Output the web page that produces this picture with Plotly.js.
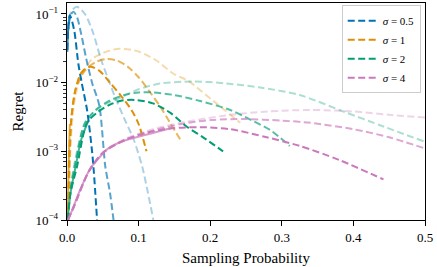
<!DOCTYPE html>
<html>
<head>
<meta charset="utf-8">
<script src="https://cdn.plot.ly/plotly-3.0.1.min.js"></script>
<style>html,body{margin:0;padding:0;background:#fff;}#chart{width:437px;height:267px;}</style>
</head>
<body>
<div id="chart"></div>
<script>
// ---- data ----
const sigmaLabels = ["0.5", "1", "2", "4"];
const colors = ["#0173B2", "#DE8F05", "#029E73", "#CC78BC"];

// sigma = 0.5
const s05_solid_x = [0.0005, 0.002, 0.004];
const s05_solid_y = [0.028, 0.07, 0.095];
const s05_a_x = [0.0005, 0.004, 0.01, 0.0158, 0.0205, 0.028, 0.035, 0.0375, 0.042];
const s05_a_y = [0.03, 0.096, 0.058, 0.019, 0.01, 0.004, 0.001, 0.0005, 0.0001];
const s05_b_x = [0.001, 0.005, 0.009, 0.014, 0.02, 0.027, 0.035, 0.045, 0.0535, 0.06, 0.065];
const s05_b_y = [0.05, 0.095, 0.108, 0.09, 0.05, 0.022, 0.01, 0.0047, 0.0006, 0.00025, 0.0001];
const s05_c_x = [0.002, 0.006, 0.014, 0.025, 0.036, 0.048, 0.058, 0.067, 0.08, 0.093, 0.105, 0.113, 0.1206];
const s05_c_y = [0.06, 0.11, 0.127, 0.1, 0.055, 0.021, 0.011, 0.0062, 0.003, 0.0015, 0.0006, 0.00025, 0.0001];

// sigma = 1
const s1_solid_x = [0.001, 0.002, 0.003, 0.004];
const s1_solid_y = [0.0001, 0.0004, 0.0012, 0.0025];
const s1_a_x = [0.0015, 0.003, 0.006, 0.012, 0.02, 0.032, 0.045, 0.06, 0.075, 0.09, 0.1, 0.111];
const s1_a_y = [0.0001, 0.0008, 0.003, 0.008, 0.014, 0.017, 0.015, 0.01, 0.0065, 0.004, 0.0025, 0.001];
const s1_b_x = [0.002, 0.004, 0.0066, 0.012, 0.025, 0.04, 0.055, 0.07, 0.085, 0.1, 0.115, 0.13, 0.144, 0.158];
const s1_b_y = [0.0001, 0.001, 0.0035, 0.008, 0.015, 0.02, 0.022, 0.021, 0.017, 0.012, 0.0075, 0.0045, 0.0026, 0.0015];
const s1_c_x = [0.0025, 0.005, 0.01, 0.02, 0.035, 0.05, 0.07, 0.09, 0.102, 0.125, 0.148, 0.17, 0.195, 0.22, 0.242];
const s1_c_y = [0.0001, 0.0012, 0.005, 0.013, 0.022, 0.027, 0.031, 0.03, 0.028, 0.021, 0.0136, 0.0105, 0.0065, 0.004, 0.0026];

// sigma = 2
const s2_solid_x = [0.001, 0.005, 0.012, 0.02, 0.03];
const s2_solid_y = [0.0001, 0.00025, 0.0006, 0.0015, 0.0028];
const s2_a_x = [0.001, 0.005, 0.014, 0.028, 0.044, 0.06, 0.077, 0.095, 0.12, 0.145, 0.167, 0.19, 0.218];
const s2_a_y = [0.0001, 0.00025, 0.0006, 0.0026, 0.0038, 0.0048, 0.0055, 0.0056, 0.005, 0.0036, 0.0023, 0.0016, 0.001];
const s2_b_x = [0.001, 0.005, 0.012, 0.025, 0.04, 0.06, 0.08, 0.1, 0.12, 0.15, 0.186, 0.228, 0.256, 0.285, 0.311];
const s2_b_y = [0.0001, 0.00028, 0.0007, 0.0026, 0.004, 0.0055, 0.0066, 0.0072, 0.0072, 0.0066, 0.0054, 0.004, 0.0029, 0.002, 0.0012];
const s2_c_x = [0.001, 0.005, 0.012, 0.025, 0.045, 0.074, 0.1, 0.13, 0.176, 0.22, 0.27, 0.325, 0.386, 0.442, 0.498];
const s2_c_y = [0.0001, 0.0003, 0.0008, 0.0025, 0.0043, 0.006, 0.008, 0.0097, 0.0104, 0.0098, 0.0085, 0.0066, 0.0038, 0.0023, 0.0014];

// sigma = 4
const s4_solid_x = [0.001, 0.004, 0.018, 0.032, 0.04, 0.055, 0.07, 0.086, 0.116, 0.147];
const s4_solid_y = [0.0001, 0.000115, 0.00027, 0.00055, 0.0007, 0.00105, 0.0013, 0.0015, 0.0018, 0.0022];
const s4_a_x = [0.001, 0.01, 0.03, 0.05, 0.08, 0.11, 0.144, 0.186, 0.228, 0.279, 0.325, 0.38, 0.442];
const s4_a_y = [0.0001, 0.00016, 0.0005, 0.00095, 0.00145, 0.00185, 0.00215, 0.00225, 0.0021, 0.0016, 0.0012, 0.00075, 0.00039];
const s4_b_x = [0.001, 0.01, 0.03, 0.05, 0.08, 0.12, 0.16, 0.2, 0.25, 0.3, 0.34, 0.4, 0.45, 0.5];
const s4_b_y = [0.0001, 0.00016, 0.0005, 0.00095, 0.00145, 0.002, 0.0025, 0.00285, 0.00295, 0.0028, 0.0026, 0.0021, 0.0016, 0.0011];
const s4_c_x = [0.001, 0.01, 0.03, 0.05, 0.08, 0.12, 0.167, 0.228, 0.28, 0.34, 0.4, 0.45, 0.5];
const s4_c_y = [0.0001, 0.00016, 0.0005, 0.00095, 0.0015, 0.0021, 0.0027, 0.0034, 0.0038, 0.004, 0.0038, 0.0034, 0.0031];

const xTickVals = [0, 0.1, 0.2, 0.3, 0.4, 0.5];
const xTickText = ["0.0", "0.1", "0.2", "0.3", "0.4", "0.5"];
const yTickVals = [1e-4, 1e-3, 1e-2, 1e-1];
const yTickText = ["10<sup>−4</sup>", "10<sup>−3</sup>", "10<sup>−2</sup>", "10<sup>−1</sup>"];
const yDecades = [1e-4, 1e-3, 1e-2, 1e-1];
const minorDigits = [2, 3, 4, 5, 6, 7, 8, 9];

// ---- build traces ----
function rgba(hex, a) {
  const r = parseInt(hex.slice(1, 3), 16), g = parseInt(hex.slice(3, 5), 16), b = parseInt(hex.slice(5, 7), 16);
  return `rgba(${r},${g},${b},${a})`;
}
const groups = [
  {solid: [s05_solid_x, s05_solid_y], a: [s05_a_x, s05_a_y], b: [s05_b_x, s05_b_y], c: [s05_c_x, s05_c_y]},
  {solid: [s1_solid_x, s1_solid_y], a: [s1_a_x, s1_a_y], b: [s1_b_x, s1_b_y], c: [s1_c_x, s1_c_y]},
  {solid: [s2_solid_x, s2_solid_y], a: [s2_a_x, s2_a_y], b: [s2_b_x, s2_b_y], c: [s2_c_x, s2_c_y]},
  {solid: [s4_solid_x, s4_solid_y], a: [s4_a_x, s4_a_y], b: [s4_b_x, s4_b_y], c: [s4_c_x, s4_c_y]},
];
const traces = [];
const dash = "7px,3.5px";
groups.forEach((g, i) => {
  traces.push({x: g.c[0], y: g.c[1], mode: "lines", line: {color: rgba(colors[i], 0.33), width: 2, dash: dash, shape: "spline", smoothing: 0.8}, showlegend: false, hoverinfo: "skip"});
});
groups.forEach((g, i) => {
  traces.push({x: g.b[0], y: g.b[1], mode: "lines", line: {color: rgba(colors[i], 0.66), width: 2, dash: dash, shape: "spline", smoothing: 0.8}, showlegend: false, hoverinfo: "skip"});
});
groups.forEach((g, i) => {
  traces.push({x: g.solid[0], y: g.solid[1], mode: "lines", line: {color: rgba(colors[i], 0.75), width: 2, shape: "spline", smoothing: 0.8}, showlegend: false, hoverinfo: "skip"});
});
groups.forEach((g, i) => {
  traces.push({x: g.a[0], y: g.a[1], mode: "lines", name: "<i>σ</i> = " + sigmaLabels[i], line: {color: colors[i], width: 2, dash: dash, shape: "spline", smoothing: 0.8}, showlegend: true});
});

const minorVals = [];
yDecades.forEach(d => minorDigits.forEach(m => minorVals.push(d * m)));

const fam = "Liberation Serif, DejaVu Serif, serif";
const layout = {
  width: 437, height: 267,
  margin: {l: 67, r: 12, t: 3, b: 47},
  paper_bgcolor: "#fff", plot_bgcolor: "#fff",
  font: {family: fam, color: "#000", size: 13},
  showlegend: true,
  legend: {
    x: 0.988, y: 0.99, xanchor: "right", yanchor: "top",
    bgcolor: "rgba(255,255,255,0.85)", bordercolor: "#cccccc", borderwidth: 1,
    font: {family: fam, size: 11, color: "#000"},
    itemwidth: 30, tracegroupgap: 0
  },
  xaxis: {
    range: [0, 0.5], tickmode: "array", tickvals: xTickVals, ticktext: xTickText,
    ticks: "outside", ticklen: 5, tickwidth: 1, tickcolor: "#000",
    showline: true, linecolor: "#000", linewidth: 1.3, mirror: true,
    showgrid: false, zeroline: false,
    tickfont: {family: fam, size: 13},
    title: {text: "Sampling Probability", font: {family: fam, size: 15}, standoff: 8}
  },
  yaxis: {
    type: "log", range: [-4, -0.84], tickmode: "array", tickvals: yTickVals, ticktext: yTickText,
    ticks: "outside", ticklen: 5, tickwidth: 1, tickcolor: "#000",
    minor: {tickmode: "array", tickvals: minorVals, ticks: "outside", ticklen: 2.5, tickwidth: 0.8, tickcolor: "#000", showgrid: false},
    showline: true, linecolor: "#000", linewidth: 1.3, mirror: true,
    showgrid: false, zeroline: false,
    tickfont: {family: fam, size: 13},
    title: {text: "Regret", font: {family: fam, size: 15}, standoff: 8}
  }
};
Plotly.newPlot("chart", traces, layout, {displayModeBar: false, staticPlot: true});
</script>
</body>
</html>
